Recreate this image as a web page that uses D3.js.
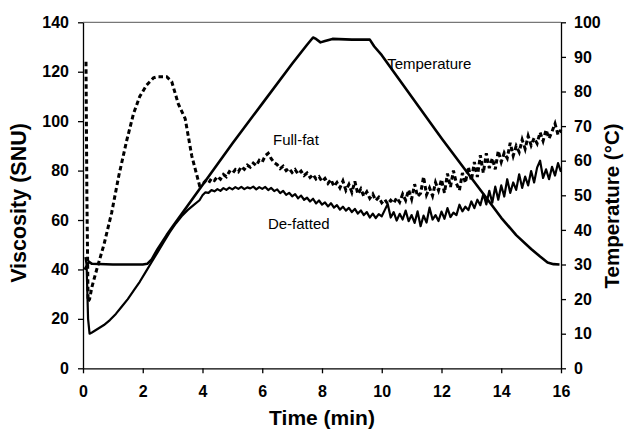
<!DOCTYPE html>
<html>
<head>
<meta charset="utf-8">
<script src="https://cdn.jsdelivr.net/npm/d3@7"></script>
<style>
  html, body { margin: 0; padding: 0; background: #fff; }
  svg { display: block; }
  text { font-family: "Liberation Sans", Arial, sans-serif; fill: #000; }
</style>
</head>
<body>
<svg id="chart" width="625" height="429"></svg>
<script>
// ---------- DATA ----------
const xTicks = [0, 2, 4, 6, 8, 10, 12, 14, 16];
const viscTicks = [0, 20, 40, 60, 80, 100, 120, 140];
const tempTicks = [0, 10, 20, 30, 40, 50, 60, 70, 80, 90, 100];

// Temperature (°C, right axis)
const tempTime = [0.05, 0.12, 0.2, 0.3, 1.0, 2.0, 2.15, 2.3, 2.5, 2.8, 3.0, 3.5, 4.0, 5.0, 6.0, 7.0, 7.5, 7.7, 7.8, 7.95, 8.1, 8.35, 9.0, 9.6, 9.75, 10.0, 11.0, 12.0, 13.0, 13.7, 14.0, 14.5, 15.0, 15.3, 15.55, 15.75, 15.95];
const tempValues = [28.5, 29.5, 30.8, 30.2, 30.0, 30.0, 30.2, 31.5, 34.5, 38.5, 41.0, 47.0, 53.0, 65.0, 76.5, 88.0, 93.5, 95.6, 95.2, 94.2, 94.6, 95.2, 95.0, 95.0, 93.0, 90.5, 78.5, 66.5, 55.0, 47.0, 43.5, 38.5, 34.5, 32.3, 30.6, 30.1, 30.0];

// Full-fat viscosity (SNU), start-up phase (irregular times)
const fullFatEarlyTime = [0.1, 0.13, 0.17, 0.22, 0.3, 0.46, 0.7, 0.96, 1.2, 1.46, 1.69, 1.9, 2.13, 2.36, 2.5, 2.8, 2.97, 3.19, 3.42, 3.64, 3.9];
const fullFatEarly = [124, 70, 27, 28, 33, 40, 50, 63, 78, 92, 103, 110, 114.6, 117.5, 118, 118, 116, 107, 101, 86, 74];

// De-fatted viscosity (SNU), start-up phase
const deFatEarlyTime = [0.08, 0.12, 0.17, 0.22, 0.3, 0.5, 0.7, 0.9, 1.1, 1.3, 1.5, 1.7, 1.9, 2.1, 2.3, 2.5, 2.7, 2.9, 3.1, 3.3, 3.5, 3.7, 3.9];
const deFatEarly = [45, 42, 20, 14, 14.5, 16, 17.5, 19.5, 22, 25, 28, 31.5, 35, 39, 43, 47, 51, 55, 58.5, 61.5, 64, 66, 68];

// Sampled every 0.1 min from 4.0 to 16.0 min
const sampleStart = 4.0, sampleStep = 0.1;
const fullFatLate = [
  74.5, 75.8, 74.9, 76.8, 76.0, 77.6, 76.5, 78.4, 77.5, 79.6,
  78.8, 80.4, 79.5, 81.6, 80.5, 82.2, 81.4, 83.0, 82.0, 84.2,
  83.5, 86.0, 87.0, 84.8, 83.2, 82.4, 80.8, 81.8, 80.0, 80.9,
  79.2, 80.4, 78.6, 79.8, 78.0, 79.0, 77.2, 78.4, 76.6, 77.5,
  75.6, 76.8, 74.8, 76.4, 73.6, 75.2, 73.0, 75.8, 72.0, 74.4,
  71.2, 75.6, 70.5, 72.6, 69.6, 71.4, 68.8, 70.5, 67.9, 69.2,
  67.0, 68.3, 66.5, 68.0, 66.8, 69.0, 67.2, 70.5, 68.0, 72.2,
  68.5, 74.5, 69.5, 70.8, 77.5, 70.2, 73.0, 69.8, 75.2, 72.0,
  76.4, 71.0, 78.8, 73.4, 80.0, 74.8, 72.0, 79.0, 75.0, 81.5,
  76.0, 83.5, 77.4, 86.2, 79.0, 87.0, 81.0, 85.0, 80.5, 88.0,
  83.5, 87.2, 85.0, 91.2, 86.0, 90.0, 87.5, 92.5, 88.8, 94.0,
  90.2, 93.2, 91.0, 95.5, 92.0, 96.5, 93.0, 95.8, 99.0, 94.5,
  96.5
];
const deFatLate = [
  70.0, 71.2, 71.0, 72.1, 71.6, 72.5, 71.8, 72.9, 72.2, 73.1,
  72.4, 73.3, 72.6, 73.4, 72.5, 73.2, 72.8, 73.5, 72.4, 73.3,
  72.6, 73.4, 72.1, 73.0, 71.7, 72.4, 70.9, 71.8, 70.2, 71.0,
  69.6, 70.5, 68.8, 69.9, 68.2, 69.0, 67.5, 68.6, 66.7, 67.9,
  66.2, 67.1, 65.5, 66.8, 65.0, 66.0, 64.2, 65.4, 63.8, 64.9,
  63.2, 64.5, 62.6, 63.9, 62.0, 63.2, 61.0, 62.6, 60.8, 62.4,
  61.5, 64.0, 66.5, 61.0, 63.2, 59.8, 62.5, 60.2, 63.8, 59.5,
  62.0, 58.8, 63.5, 57.5, 61.8, 59.0, 65.0, 60.2, 62.0, 59.6,
  63.4, 60.5, 64.8, 61.2, 63.0, 62.0, 66.2, 63.5, 65.4, 64.0,
  67.5, 64.8, 68.2, 66.0, 70.5, 66.3, 71.8, 67.0, 73.5, 68.2,
  74.0, 69.5, 76.5, 71.0, 75.2, 72.2, 78.5, 73.0, 77.6, 74.0,
  79.8, 75.2, 81.2, 84.0, 77.0, 80.5, 76.5, 81.5, 78.0, 83.0,
  79.5
];

const labels = [
  { text: "Temperature", t: 10.18, v: 86.5, axis: "temp" },
  { text: "Full-fat", t: 6.36, v: 90.3, axis: "visc" },
  { text: "De-fatted", t: 6.19, v: 56.5, axis: "visc" }
];

// ---------- BUILD ----------
const svg = d3.select("#chart");
const W = 625, H = 429;
const margin = { left: 83, right: 64, top: 22.3, bottom: 60.7 };
const x = d3.scaleLinear().domain([0, 16]).range([margin.left, W - margin.right]);
const yV = d3.scaleLinear().domain([0, 140]).range([H - margin.bottom, margin.top]);
const yT = d3.scaleLinear().domain([0, 100]).range([H - margin.bottom, margin.top]);

const zip = (ts, vs) => ts.map((t, i) => [t, vs[i]]);
const lateTimes = fullFatLate.map((_, i) => +(sampleStart + i * sampleStep).toFixed(2));
const tempData = zip(tempTime, tempValues);
const fullFatData = zip(fullFatEarlyTime, fullFatEarly).concat(zip(lateTimes, fullFatLate));
const deFatData = zip(deFatEarlyTime, deFatEarly).concat(zip(lateTimes, deFatLate));

// top frame line
svg.append("line")
  .attr("x1", x(0)).attr("x2", x(16))
  .attr("y1", yV(140)).attr("y2", yV(140))
  .attr("stroke", "#555").attr("stroke-width", 1);

const tickFont = g => g.selectAll("text")
  .attr("font-size", 16).attr("font-weight", "bold")
  .attr("font-family", "'Liberation Sans', Arial, sans-serif");

// axes
svg.append("g")
  .attr("transform", `translate(${x(0)},0)`)
  .call(d3.axisLeft(yV).tickValues(viscTicks).tickSize(5).tickSizeOuter(0).tickPadding(9))
  .call(tickFont)
  .call(g => g.selectAll("path,line").attr("stroke", "#000").attr("stroke-width", 1.3));

svg.append("g")
  .attr("transform", `translate(${x(16)},0)`)
  .call(d3.axisRight(yT).tickValues(tempTicks).tickSize(5).tickSizeOuter(0).tickPadding(8))
  .call(tickFont)
  .call(g => g.selectAll("path,line").attr("stroke", "#000").attr("stroke-width", 1.3));

svg.append("g")
  .attr("transform", `translate(0,${yV(0)})`)
  .call(d3.axisBottom(x).tickValues(xTicks).tickFormat(d3.format("d")).tickSize(5).tickSizeOuter(0).tickPadding(12.5))
  .call(tickFont)
  .call(g => g.selectAll("path,line").attr("stroke", "#000").attr("stroke-width", 1.3));

// lines
const lineV = d3.line().x(d => x(d[0])).y(d => yV(d[1]));
const lineT = d3.line().x(d => x(d[0])).y(d => yT(d[1]));

svg.append("path").datum(deFatData)
  .attr("d", lineV).attr("fill", "none").attr("stroke", "#000")
  .attr("stroke-width", 2.2).attr("stroke-linejoin", "round");

svg.append("path").datum(fullFatData)
  .attr("d", lineV).attr("fill", "none").attr("stroke", "#000")
  .attr("stroke-width", 3).attr("stroke-dasharray", "4.5,3");

svg.append("path").datum(tempData)
  .attr("d", lineT).attr("fill", "none").attr("stroke", "#000")
  .attr("stroke-width", 2.6).attr("stroke-linejoin", "round");

// series labels
svg.selectAll(".lbl").data(labels).enter().append("text")
  .attr("class", "lbl")
  .attr("x", d => x(d.t))
  .attr("y", d => d.axis === "temp" ? yT(d.v) : yV(d.v))
  .attr("font-size", 15)
  .text(d => d.text);

// axis titles
svg.append("text")
  .attr("transform", `translate(25.5,203) rotate(-90)`)
  .attr("text-anchor", "middle").attr("font-size", 21.5).attr("font-weight", "bold")
  .text("Viscosity (SNU)");

svg.append("text")
  .attr("transform", `translate(618.5,206) rotate(-90)`)
  .attr("text-anchor", "middle").attr("font-size", 20.5).attr("font-weight", "bold")
  .text("Temperature (°C)");

svg.append("text")
  .attr("x", (x(0) + x(16)) / 2).attr("y", 424.5)
  .attr("text-anchor", "middle").attr("font-size", 21).attr("font-weight", "bold")
  .text("Time (min)");
</script>
</body>
</html>
